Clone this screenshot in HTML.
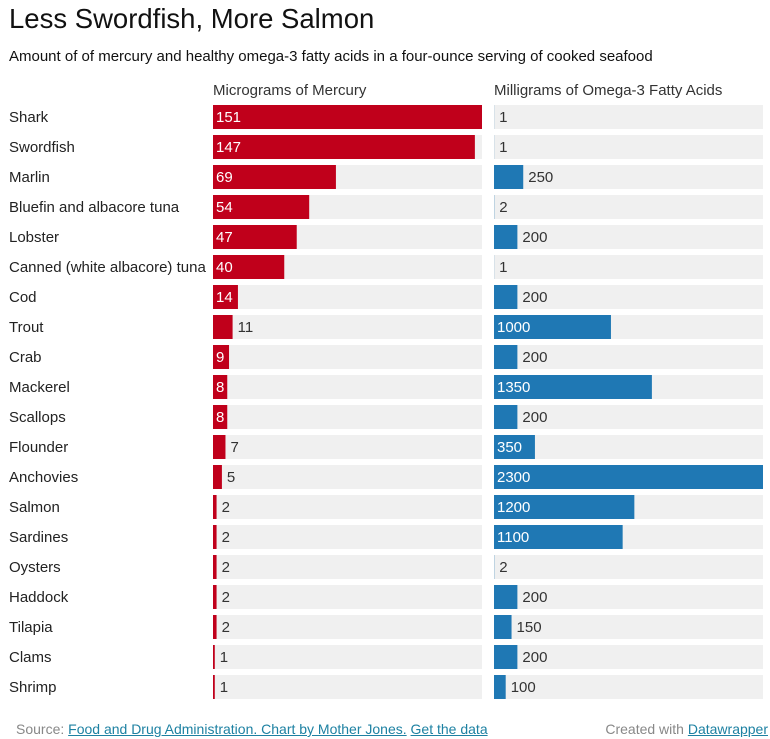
<!DOCTYPE html>
<html><head><meta charset="utf-8">
<style>
body{margin:0;background:#fff;font-family:"Liberation Sans",Arial,sans-serif;color:#222;width:770px;height:739px;overflow:hidden;position:relative}
.t{position:absolute;left:9px;top:3px;font-size:27.5px;color:#111}
.s{position:absolute;left:9px;top:48px;font-size:15px;color:#111}
.f{position:absolute;top:721px;font-size:14px;color:#888}
.f a{color:#1d81a2;text-decoration:underline}
</style></head><body>
<div class="t">Less Swordfish, More Salmon</div>
<div class="s">Amount of of mercury and healthy omega-3 fatty acids in a four-ounce serving of cooked seafood</div>
<svg id="c" width="770" height="710" style="position:absolute;left:0;top:0"></svg>
<div class="f" style="left:16px">Source: <a>Food and Drug Administration. Chart by Mother Jones.</a> <a>Get the data</a></div>
<div class="f" style="right:2px">Created with <a>Datawrapper</a></div>
<script>
const categories=["Shark","Swordfish","Marlin","Bluefin and albacore tuna","Lobster","Canned (white albacore) tuna","Cod","Trout","Crab","Mackerel","Scallops","Flounder","Anchovies","Salmon","Sardines","Oysters","Haddock","Tilapia","Clams","Shrimp"];
const mercury=[151,147,69,54,47,40,14,11,9,8,8,7,5,2,2,2,2,2,1,1];
const omega=[1,1,250,2,200,1,200,1000,200,1350,200,350,2300,1200,1100,2,200,150,200,100];
const headers=["Micrograms of Mercury","Milligrams of Omega-3 Fatty Acids"];
const NS="http://www.w3.org/2000/svg";
const svg=document.getElementById('c');
function mk(t,a){const e=document.createElementNS(NS,t);for(const k in a)e.setAttribute(k,a[k]);svg.appendChild(e);return e;}
const W=269, x0=[213,494];
const mMax=Math.max(...mercury), oMax=Math.max(...omega);
const xm=v=>v/mMax*W, xo=v=>v/oMax*W;
const rowY=i=>105+i*30;
const cols=[{d:mercury,s:xm,c:"#c0001b",n:"mercury"},{d:omega,s:xo,c:"#1f78b4",n:"omega"}];
headers.forEach((h,k)=>{const t=mk('text',{x:x0[k],y:95,'font-size':15,fill:'#333'});t.textContent=h;

});
categories.forEach((cat,i)=>{
 const y=rowY(i);
 const l=mk('text',{x:9,y:y+17,'font-size':15,fill:'#222'});l.textContent=cat;
 
 
 cols.forEach((col,k)=>{
  const bg=mk('rect',{x:x0[k],y:y,width:W,height:24,fill:'#f0f0f0'});
  
  
  const v=col.d[i], w=col.s(v);
  const r=mk('rect',{x:x0[k],y:y,width:w,height:24,fill:col.c});
  
  
  const str=String(v), inside=w>str.length*8+6;
  const t=mk('text',{x:inside?x0[k]+3:x0[k]+w+5,y:y+17,'font-size':15,fill:inside?'#fff':'#333'});
  t.textContent=str;
  
  
 });
});
</script>
</body></html>
